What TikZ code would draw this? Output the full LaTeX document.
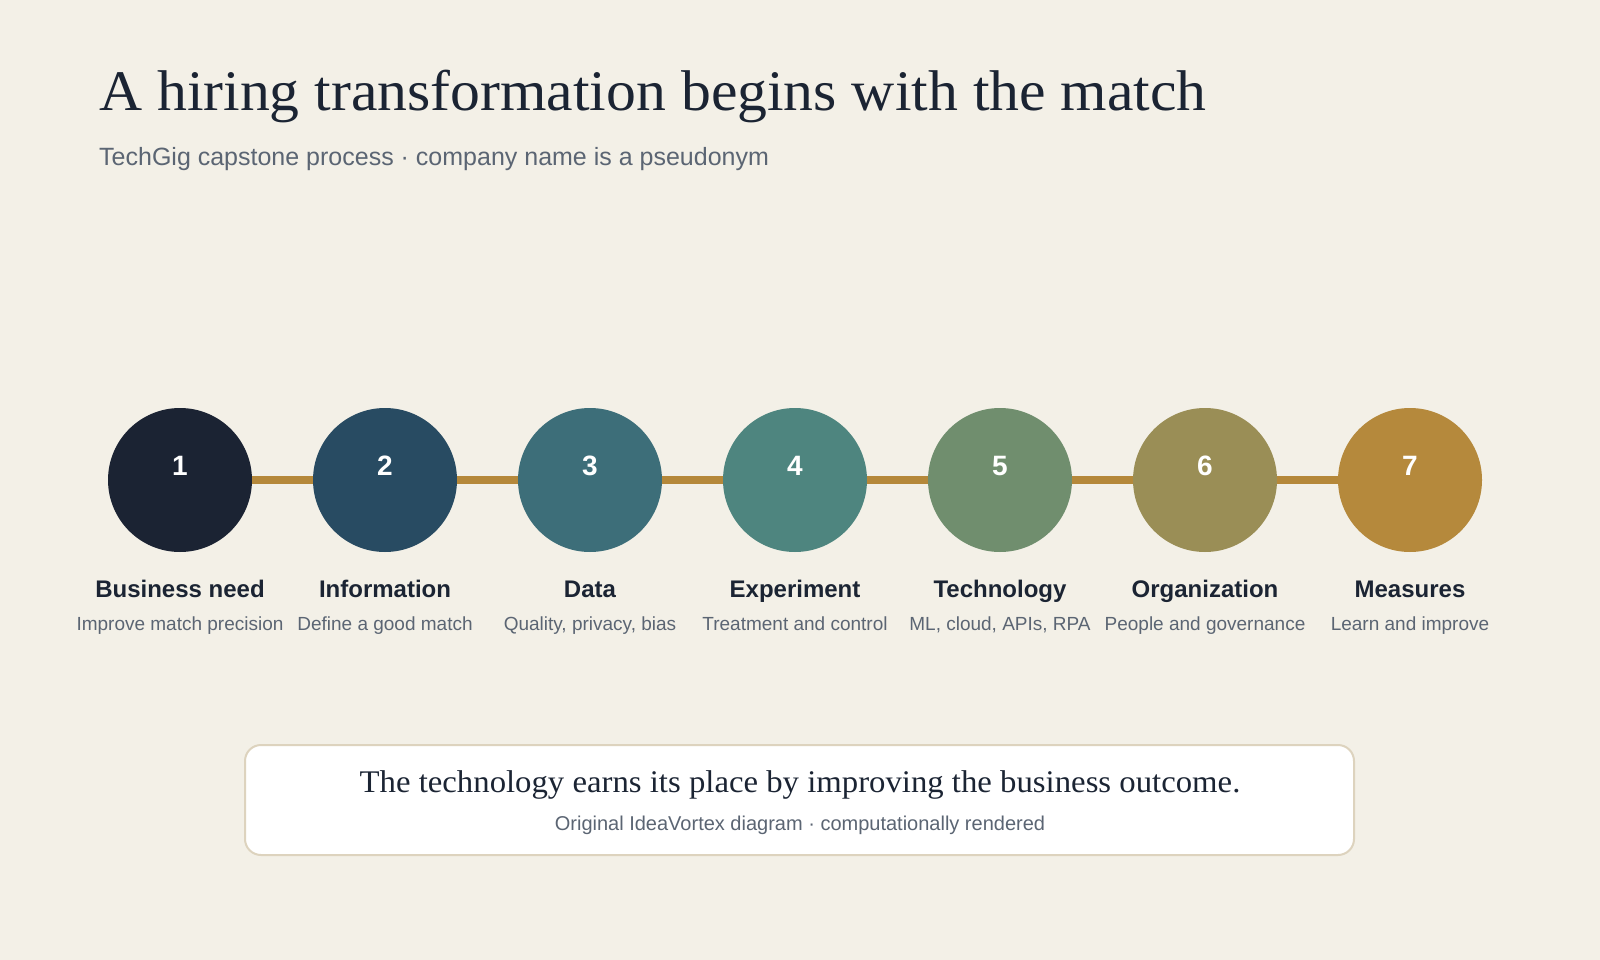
\documentclass[tikz,border=0pt]{standalone}
\usepackage{fontspec}
\setmainfont{Liberation Serif}
\setsansfont{Liberation Sans}
\newfontfamily\wideserif[FakeStretch=1.04]{Liberation Serif}
\usetikzlibrary{positioning}

\definecolor{bgcream}{HTML}{F3F0E7}
\definecolor{ink}{HTML}{1B2433}
\definecolor{slate}{HTML}{5B6573}
\definecolor{gold}{HTML}{B5883A}
\definecolor{rim}{HTML}{DDD3BE}
\definecolor{stepA}{HTML}{1B2333}
\definecolor{stepB}{HTML}{284B62}
\definecolor{stepC}{HTML}{3D6E79}
\definecolor{stepD}{HTML}{4E857F}
\definecolor{stepE}{HTML}{708E6E}
\definecolor{stepF}{HTML}{9A8E56}
\definecolor{stepG}{HTML}{B5893C}

\begin{document}
\begin{tikzpicture}[x=1pt, y=1pt,
    stepdot/.style={circle, minimum size=144pt, inner sep=0pt},
    num/.style={text=white, anchor=base, font=\sffamily\bfseries\fontsize{28}{28}\selectfont},
    head/.style={text=ink, anchor=base, font=\sffamily\bfseries\fontsize{24}{24}\selectfont},
    sub/.style={text=slate, anchor=base, font=\sffamily\fontsize{19}{19}\selectfont},
    link/.style={draw=gold, line width=8pt}]
    \fill[bgcream] (0,0) rectangle (1600,-960);
    \useasboundingbox (0,0) rectangle (1600,-960);

    % heading
    \node[anchor=base west, inner sep=0pt, text=ink, font=\wideserif\fontsize{57.4}{57.4}\selectfont] (title) at (99,-111) {A hiring transformation begins with the match};
    \node[anchor=base west, inner sep=0pt, text=slate, font=\sffamily\fontsize{25}{25}\selectfont] (subtitle) at (99,-166) {TechGig capstone process · company name is a pseudonym};

    % the seven steps
    \node[stepdot, fill=stepA] (s1) at (180,-480) {};
    \node[stepdot, fill=stepB] (s2) at (385,-480) {};
    \node[stepdot, fill=stepC] (s3) at (590,-480) {};
    \node[stepdot, fill=stepD] (s4) at (795,-480) {};
    \node[stepdot, fill=stepE] (s5) at (1000,-480) {};
    \node[stepdot, fill=stepF] (s6) at (1205,-480) {};
    \node[stepdot, fill=stepG] (s7) at (1410,-480) {};
    \draw[link] (s1) -- (s2);
    \draw[link] (s2) -- (s3);
    \draw[link] (s3) -- (s4);
    \draw[link] (s4) -- (s5);
    \draw[link] (s5) -- (s6);
    \draw[link] (s6) -- (s7);

    \node[num] (n1) at (180,-475) {1};
    \node[num] (n2) at (385,-475) {2};
    \node[num] (n3) at (590,-475) {3};
    \node[num] (n4) at (795,-475) {4};
    \node[num] (n5) at (1000,-475) {5};
    \node[num] (n6) at (1205,-475) {6};
    \node[num] (n7) at (1410,-475) {7};

    \node[head] (h1) at (180,-597) {Business need};
    \node[head] (h2) at (385,-597) {Information};
    \node[head] (h3) at (590,-597) {Data};
    \node[head] (h4) at (795,-597) {Experiment};
    \node[head] (h5) at (1000,-597) {Technology};
    \node[head] (h6) at (1205,-597) {Organization};
    \node[head] (h7) at (1410,-597) {Measures};

    \node[sub] (d1) at (180,-630) {Improve match precision};
    \node[sub] (d2) at (385,-630) {Define a good match};
    \node[sub] (d3) at (590,-630) {Quality, privacy, bias};
    \node[sub] (d4) at (795,-630) {Treatment and control};
    \node[sub] (d5) at (1000,-630) {ML, cloud, APIs, RPA};
    \node[sub] (d6) at (1205,-630) {People and governance};
    \node[sub] (d7) at (1410,-630) {Learn and improve};

    % closing note
    \node[draw=rim, line width=2pt, fill=white, rounded corners=16pt, minimum width=1109pt, minimum height=110pt, inner sep=0pt] (note) at (799.5,-800) {};
    \node[anchor=base, text=ink, font=\wideserif\fontsize{31.5}{31.5}\selectfont] (claim) at (800,-792) {The technology earns its place by improving the business outcome.};
    \node[anchor=base, text=slate, font=\sffamily\fontsize{20}{20}\selectfont] (credit) at (800,-830) {Original IdeaVortex diagram · computationally rendered};
\end{tikzpicture}
\end{document}
